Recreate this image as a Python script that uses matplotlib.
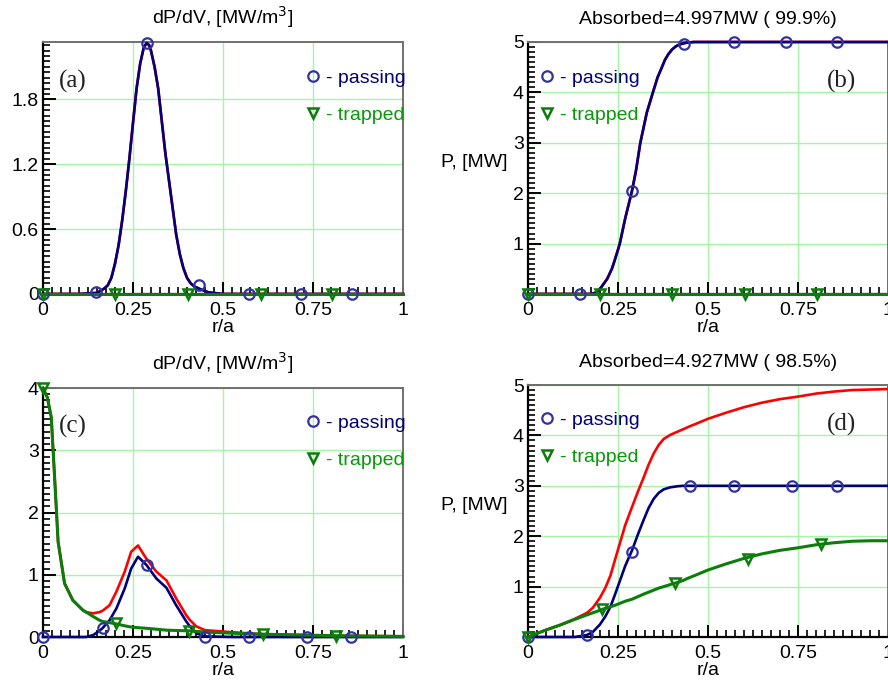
import matplotlib
matplotlib.use("Agg")
import matplotlib.pyplot as plt
from matplotlib.lines import Line2D
from matplotlib.ticker import MultipleLocator, FixedLocator, FixedFormatter

plt.rcParams['font.family'] = ['Liberation Sans', 'DejaVu Sans']

# colours
NAVY = '#00007a'
MARK_BLUE = '#3333a0'
GREEN = '#0a7d0a'
LEG_GREEN = '#079a07'
RED = '#ff0000'
GRID = '#a6f5a6'

# ---------------- panel (a): dP/dV, case 1 ----------------
a_r = [0.0, 0.10, 0.15, 0.16, 0.17, 0.18, 0.19, 0.20, 0.21, 0.22, 0.23, 0.24, 0.25, 0.26,
       0.27, 0.28, 0.288, 0.295, 0.30, 0.31, 0.32, 0.33, 0.34, 0.35, 0.36, 0.37, 0.38,
       0.39, 0.40, 0.41, 0.42, 0.44, 0.46, 0.50, 1.0]
a_pass = [0.0, 0.0, 0.01, 0.03, 0.05, 0.08, 0.15, 0.28, 0.45, 0.68, 0.95, 1.25, 1.58, 1.90,
          2.13, 2.28, 2.32, 2.30, 2.25, 2.10, 1.90, 1.60, 1.30, 1.05, 0.80, 0.55, 0.37,
          0.24, 0.15, 0.10, 0.07, 0.04, 0.015, 0.0, 0.0]
a_trap = [0.0] * len(a_r)
a_mk_pass_r = [0.0, 0.147, 0.288, 0.434, 0.573, 0.718, 0.859]
a_mk_pass = [0.0, 0.02, 2.32, 0.08, 0.0, 0.0, 0.0]
a_mk_trap_r = [0.0, 0.2, 0.404, 0.605, 0.804]
a_mk_trap = [0.0, 0.0, 0.0, 0.0, 0.0]

# ---------------- panel (b): integrated power, case 1 ----------------
b_r = [0.0, 0.17, 0.18, 0.19, 0.20, 0.21, 0.22, 0.233, 0.24, 0.25, 0.255, 0.27, 0.289,
       0.30, 0.312, 0.33, 0.347, 0.36, 0.372, 0.38, 0.39, 0.40, 0.41, 0.42, 0.43,
       0.44, 0.46, 1.0]
b_pass = [0.0, 0.0, 0.01, 0.03, 0.10, 0.20, 0.30, 0.50, 0.65, 0.88, 1.0, 1.50, 2.05,
          2.45, 3.0, 3.6, 4.0, 4.3, 4.5, 4.64, 4.76, 4.85, 4.91, 4.95, 4.97,
          4.985, 5.0, 5.0]
b_trap = [0.0] * len(b_r)
b_mk_pass_r = [0.0, 0.145, 0.289, 0.432, 0.573, 0.718, 0.858]
b_mk_pass = [0.0, 0.0, 2.05, 4.97, 5.0, 5.0, 5.0]
b_mk_trap_r = [0.0, 0.2, 0.4, 0.604, 0.803]
b_mk_trap = [0.0, 0.0, 0.0, 0.0, 0.0]

# ---------------- panel (c): dP/dV, case 2 ----------------
c_r = [0.0, 0.012, 0.023, 0.032, 0.042, 0.06, 0.083, 0.111, 0.12, 0.139, 0.157, 0.165,
       0.185, 0.204, 0.227, 0.245, 0.264, 0.287, 0.315, 0.343, 0.37, 0.398, 0.407,
       0.426, 0.45, 0.53, 0.61, 0.815, 1.0]
c_trap = [4.0, 3.85, 3.53, 2.6, 1.53, 0.86, 0.59, 0.43, 0.40, 0.33, 0.27, 0.25,
          0.23, 0.21, 0.18, 0.16, 0.15, 0.14, 0.125, 0.11, 0.105, 0.10, 0.10,
          0.09, 0.08, 0.06, 0.045, 0.02, 0.01]
c_pass = [0.0, 0.0, 0.0, 0.0, 0.0, 0.0, 0.0, 0.0, 0.0, 0.03, 0.10, 0.14,
          0.27, 0.46, 0.78, 1.10, 1.29, 1.16, 0.94, 0.79, 0.51, 0.25, 0.18,
          0.06, 0.01, 0.0, 0.0, 0.0, 0.0]
c_tot = [4.0, 3.85, 3.53, 2.6, 1.53, 0.86, 0.59, 0.43, 0.40, 0.38, 0.40, 0.42,
         0.51, 0.73, 1.05, 1.37, 1.47, 1.26, 1.05, 0.91, 0.62, 0.35, 0.28,
         0.17, 0.11, 0.075, 0.045, 0.02, 0.01]
c_mk_pass_r = [0.0, 0.166, 0.288, 0.45, 0.571, 0.734, 0.855]
c_mk_pass = [0.0, 0.14, 1.16, 0.0, 0.0, 0.0, 0.0]
c_mk_trap_r = [0.0, 0.204, 0.407, 0.61, 0.815]
c_mk_trap = [4.0, 0.22, 0.10, 0.045, 0.02]

# ---------------- panel (d): integrated power, case 2 ----------------
d_r = [0.0, 0.05, 0.09, 0.13, 0.164, 0.18, 0.2, 0.215, 0.229, 0.242, 0.256, 0.27,
       0.289, 0.305, 0.321, 0.335, 0.349, 0.363, 0.377, 0.395, 0.414, 0.43, 0.449,
       0.47, 0.5, 0.55, 0.6, 0.65, 0.7, 0.75, 0.8, 0.85, 0.9, 0.95, 1.0]
d_pass = [0.0, 0.0, 0.0, 0.0, 0.04, 0.10, 0.25, 0.41, 0.60, 0.85, 1.13, 1.41,
          1.72, 2.03, 2.32, 2.56, 2.74, 2.86, 2.93, 2.97, 2.99, 3.0, 3.0,
          3.0, 3.0, 3.0, 3.0, 3.0, 3.0, 3.0, 3.0, 3.0, 3.0, 3.0, 3.0]
d_trap = [0.0, 0.14, 0.24, 0.35, 0.44, 0.48, 0.53, 0.57, 0.60, 0.63, 0.67, 0.71,
          0.75, 0.80, 0.85, 0.89, 0.93, 0.97, 1.00, 1.04, 1.08, 1.12, 1.18,
          1.24, 1.33, 1.45, 1.56, 1.65, 1.72, 1.77, 1.83, 1.87, 1.90, 1.91, 1.91]
d_tot = [0.0, 0.14, 0.24, 0.36, 0.48, 0.58, 0.78, 0.98, 1.22, 1.54, 1.88, 2.22,
         2.58, 2.88, 3.16, 3.42, 3.64, 3.81, 3.93, 4.01, 4.07, 4.12, 4.18,
         4.24, 4.33, 4.45, 4.56, 4.65, 4.72, 4.77, 4.83, 4.87, 4.90, 4.91, 4.92]
d_mk_pass_r = [0.0, 0.164, 0.289, 0.449, 0.573, 0.734, 0.859]
d_mk_pass = [0.0, 0.04, 1.69, 3.0, 3.0, 3.0, 3.0]
d_mk_trap_r = [0.0, 0.206, 0.407, 0.61, 0.815]
d_mk_trap = [0.0, 0.55, 1.08, 1.55, 1.85]

titles = ['dP/dV, [MW/m$^3$]', 'Absorbed=4.997MW ( 99.9%)',
          'dP/dV, [MW/m$^3$]', 'Absorbed=4.927MW ( 98.5%)']
panel_labels = ['(a)', '(b)', '(c)', '(d)']

fig = plt.figure(figsize=(8.88, 6.84), dpi=100)
# axes rectangles in figure fractions (left, bottom, width, height)
rects = [(0.0484, 0.5702, 0.4054, 0.3684),
         (0.5946, 0.5702, 0.4054, 0.3684),
         (0.0484, 0.0687, 0.4054, 0.3640),
         (0.5946, 0.0687, 0.4054, 0.3684)]

panels = [
    dict(r=a_r, tot=a_pass, pas=a_pass, trap=a_trap, mpr=a_mk_pass_r, mp=a_mk_pass,
         mtr=a_mk_trap_r, mt=a_mk_trap, ylim=2.33, yt=[0, 0.6, 1.2, 1.8],
         ytl=['0', '0.6', '1.2', '1.8'], ymin=0.05),
    dict(r=b_r, tot=b_pass, pas=b_pass, trap=b_trap, mpr=b_mk_pass_r, mp=b_mk_pass,
         mtr=b_mk_trap_r, mt=b_mk_trap, ylim=5.0, yt=[1, 2, 3, 4, 5],
         ytl=['1', '2', '3', '4', '5'], ymin=0.1),
    dict(r=c_r, tot=c_tot, pas=c_pass, trap=c_trap, mpr=c_mk_pass_r, mp=c_mk_pass,
         mtr=c_mk_trap_r, mt=c_mk_trap, ylim=4.0, yt=[0, 1, 2, 3, 4],
         ytl=['0', '1', '2', '3', '4'], ymin=0.1),
    dict(r=d_r, tot=d_tot, pas=d_pass, trap=d_trap, mpr=d_mk_pass_r, mp=d_mk_pass,
         mtr=d_mk_trap_r, mt=d_mk_trap, ylim=5.0, yt=[1, 2, 3, 4, 5],
         ytl=['1', '2', '3', '4', '5'], ymin=0.1),
]

for i, p in enumerate(panels):
    ax = fig.add_axes(rects[i])
    ax.set_xlim(0, 1)
    ax.set_ylim(0, p['ylim'])

    ax.plot(p['r'], p['tot'], color=RED, lw=1.9, zorder=3, clip_on=False)
    ax.plot(p['r'], p['pas'], color=NAVY, lw=1.9, zorder=4, clip_on=False)
    ax.plot(p['r'], p['trap'], color=GREEN, lw=2.2, zorder=5, clip_on=False)
    ax.plot(p['mpr'], p['mp'], ls='none', marker='o', ms=7.5, mfc='none',
            mec=MARK_BLUE, mew=1.6, zorder=6, clip_on=False)
    ax.plot(p['mtr'], p['mt'], ls='none', marker='v', ms=7, mfc='none',
            mec=GREEN, mew=1.8, zorder=7, clip_on=False)

    # ticks
    ax.xaxis.set_major_locator(FixedLocator([0, 0.25, 0.5, 0.75, 1.0]))
    ax.xaxis.set_major_formatter(FixedFormatter(['0', '0.25', '0.5', '0.75', '1']))
    ax.xaxis.set_minor_locator(MultipleLocator(0.025))
    ax.yaxis.set_major_locator(FixedLocator(p['yt']))
    ax.yaxis.set_major_formatter(FixedFormatter(p['ytl']))
    ax.yaxis.set_minor_locator(MultipleLocator(p['ymin']))
    ax.tick_params(which='both', direction='in', top=False, right=False,
                   labelsize=14, colors='black', width=1.4)
    ax.tick_params(which='major', length=9)
    ax.tick_params(which='minor', length=5, width=1.2)
    ax.tick_params(axis='x', pad=6)
    ax.tick_params(axis='y', pad=3)

    ax.grid(True, which='major', color=GRID, lw=1.0, zorder=0)
    ax.set_axisbelow(True)
    for s in ['left', 'bottom']:
        ax.spines[s].set_color('black')
        ax.spines[s].set_linewidth(1.6)
    for s in ['top', 'right']:
        ax.spines[s].set_color('#707070')
        ax.spines[s].set_linewidth(1.4)

    ax.set_title(titles[i], fontsize=14, pad=13)
    ax.set_xlabel('r/a', fontsize=14, labelpad=0)
    if i % 2 == 1:
        ax.set_ylabel('P, [MW]', fontsize=14, rotation=0, ha='right', va='center')
        ax.yaxis.set_label_coords(-0.058, 0.52)

    # legend
    handles = [Line2D([], [], ls='none', marker='o', ms=7.5, mfc='none', mec=MARK_BLUE, mew=1.6),
               Line2D([], [], ls='none', marker='v', ms=7, mfc='none', mec=GREEN, mew=1.8)]
    lx = 0.73 if i % 2 == 0 else 0.033
    ly = 0.893 if i < 2 else 0.895
    ax.legend(handles, ['- passing', '- trapped'], loc='upper left',
              bbox_to_anchor=(lx, ly), frameon=False, fontsize=14,
              handlelength=0.75, handletextpad=0.3, labelspacing=1.0,
              borderpad=0, borderaxespad=0, labelcolor=[NAVY, LEG_GREEN])

    px = 0.045 if i % 2 == 0 else 0.83
    ax.text(px, 0.845, panel_labels[i], transform=ax.transAxes, fontsize=18,
            family=['Liberation Serif', 'DejaVu Serif'], va='center', ha='left',
            color='#222222')

fig.savefig('out.png', dpi=100)
